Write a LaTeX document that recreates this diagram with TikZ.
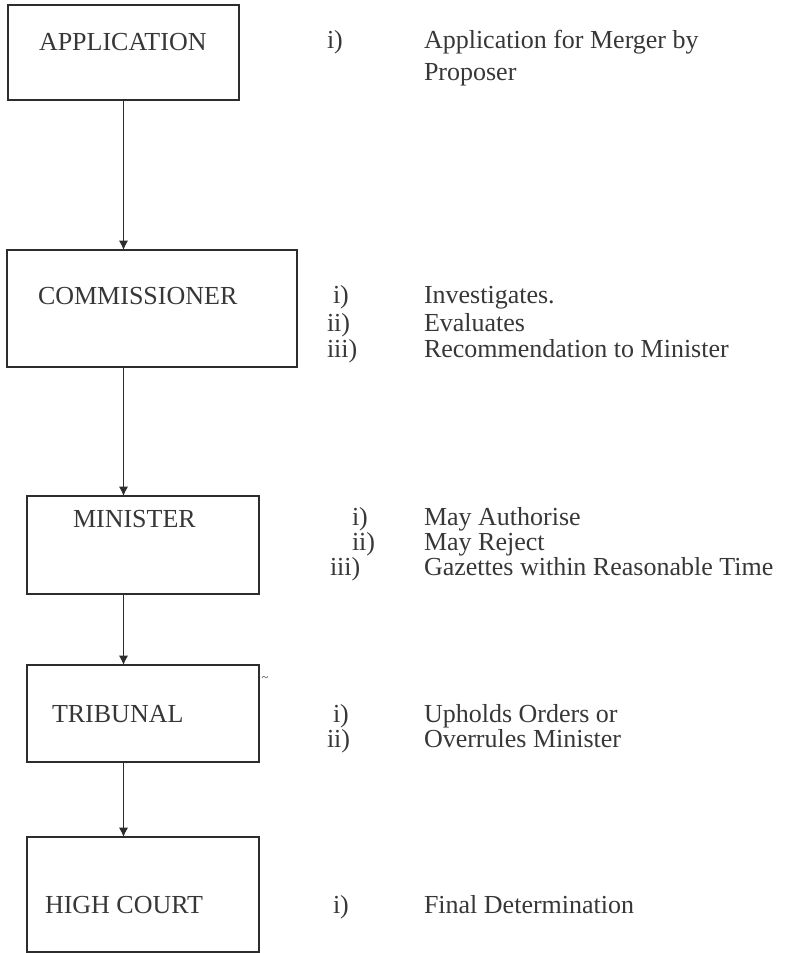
\documentclass[tikz,border=0pt]{standalone}
\usepackage{fontspec}
\setmainfont{Liberation Serif}
\usetikzlibrary{arrows.meta}
\definecolor{ink}{RGB}{45,45,45}
\definecolor{txt}{RGB}{55,55,55}
\begin{document}
\begin{tikzpicture}[x=0.75pt,y=-0.75pt,
  box/.style={draw=ink,line width=1.2pt,inner sep=0pt,outer sep=0pt,rectangle},
  lbl/.style={anchor=base west,inner sep=0pt,outer sep=0pt,text=txt,font=\fontsize{19.5}{23}\selectfont},
  arr/.style={draw=ink,line width=1.1pt,-{Latex[length=7pt,width=7pt]}}]
\useasboundingbox (0,0) rectangle (791,953);
% boxes
\node[box,minimum width=173.25pt,minimum height=71.25pt] (app) at (123.5,52.5) {};
\node[box,minimum width=217.5pt,minimum height=87.75pt] (com) at (152,308.5) {};
\node[box,minimum width=174pt,minimum height=73.5pt] (min) at (143,545) {};
\node[box,minimum width=174pt,minimum height=72.75pt] (tri) at (143,713.5) {};
\node[box,minimum width=174pt,minimum height=86.25pt] (hc) at (143,894.5) {};
% box labels
\node[lbl] (tapp) at (39,50) {APPLICATION};
\node[lbl] (tcom) at (38,304) {COMMISSIONER};
\node[lbl] (tmin) at (73,527) {MINISTER};
\node[lbl] (ttri) at (52,722) {TRIBUNAL};
\node[lbl] (thc) at (45,913) {HIGH COURT};
\node[text=txt,font=\fontsize{9}{10}\selectfont,inner sep=0pt] (tilde) at (265,679) {\textasciitilde};
% connectors
\draw[arr] (app.south) -- (com.north -| app.south);
\draw[arr] (com.south -| app.south) -- (min.north -| app.south);
\draw[arr] (min.south -| app.south) -- (tri.north -| app.south);
\draw[arr] (tri.south -| app.south) -- (hc.north -| app.south);
% descriptions
\node[lbl] (a1n) at (327,48) {i)};
\node[lbl] (a1) at (424,48) {Application for Merger by};
\node[lbl] (a2) at (424,80) {Proposer};
\node[lbl] (c1n) at (333,303) {i)};
\node[lbl] (c1) at (424,303) {Investigates.};
\node[lbl] (c2n) at (327,331) {ii)};
\node[lbl] (c2) at (424,331) {Evaluates};
\node[lbl] (c3n) at (327,357) {iii)};
\node[lbl] (c3) at (424,357) {Recommendation to Minister};
\node[lbl] (m1n) at (352,525) {i)};
\node[lbl] (m1) at (424,525) {May Authorise};
\node[lbl] (m2n) at (352,550) {ii)};
\node[lbl] (m2) at (424,550) {May Reject};
\node[lbl] (m3n) at (330,575) {iii)};
\node[lbl] (m3) at (424,575) {Gazettes within Reasonable Time};
\node[lbl] (t1n) at (333,722) {i)};
\node[lbl] (t1) at (424,722) {Upholds Orders or};
\node[lbl] (t2n) at (327,747) {ii)};
\node[lbl] (t2) at (424,747) {Overrules Minister};
\node[lbl] (h1n) at (333,913) {i)};
\node[lbl] (h1) at (424,913) {Final Determination};
\end{tikzpicture}
\end{document}
